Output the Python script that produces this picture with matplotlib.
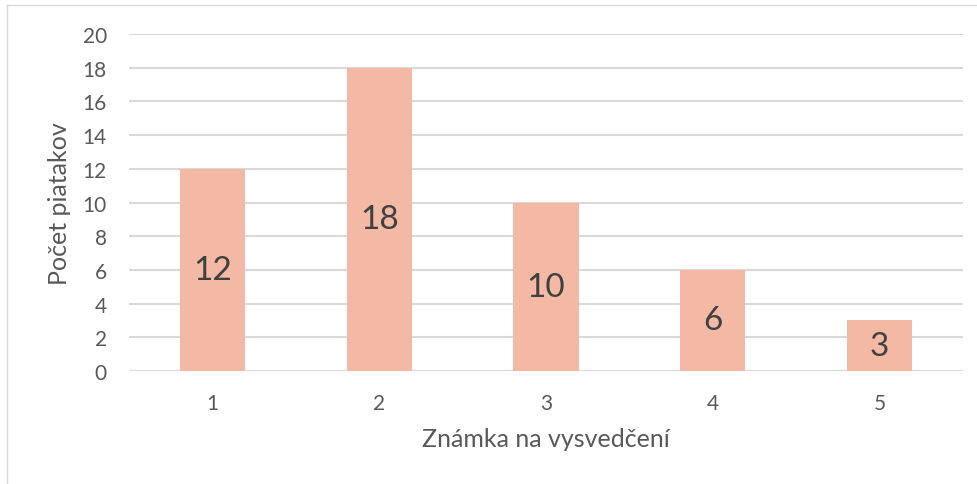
import matplotlib
matplotlib.use('Agg')
import matplotlib.pyplot as plt
from matplotlib.lines import Line2D

plt.rcParams['font.family'] = ['Lato', 'DejaVu Sans']

# data
grades = ['1', '2', '3', '4', '5']
counts = [12, 18, 10, 6, 3]
yticks = [0, 2, 4, 6, 8, 10, 12, 14, 16, 18, 20]

bar_col = '#F4B9A4'
grid_col = '#D9D9D9'
txt_col = '#595959'

fig = plt.figure(figsize=(9.77, 4.85), dpi=100)
ax = fig.add_axes([129/977, 1-372/485, (963-129)/977, (372-35)/485])

x = list(range(len(grades)))
bars = ax.bar(x, counts, width=0.39, color=bar_col, zorder=3)
for b, v in zip(bars, counts):
    ax.text(b.get_x()+b.get_width()/2, v/2., str(v), ha='center', va='center',
            fontsize=24, color='#404040', zorder=4)

ax.set_xlim(-0.5, len(grades)-0.5)
ax.set_ylim(0, 20)
ax.set_yticks(yticks)
ax.set_xticks(x)
ax.set_xticklabels(grades)
ax.yaxis.grid(True, color=grid_col, linewidth=1.5, zorder=0)
for s in ax.spines.values():
    s.set_visible(False)
ax.axhline(0, color=grid_col, linewidth=1.5, zorder=2)
ax.tick_params(axis='both', length=0, labelsize=15, labelcolor=txt_col)
ax.tick_params(axis='y', pad=16)
ax.tick_params(axis='x', pad=16)

ax.set_xlabel('Známka na vysvedčení', fontsize=18, color=txt_col, labelpad=10)
ax.set_ylabel('Počet piatakov', fontsize=18, color=txt_col, labelpad=8)

# outer chart frame (partly cropped in the picture)
fig.add_artist(Line2D([7/977, 7/977], [0, 1-6/485], transform=fig.transFigure, color='#D9D9D9', lw=1))
fig.add_artist(Line2D([7/977, 1], [1-6/485, 1-6/485], transform=fig.transFigure, color='#D9D9D9', lw=1))

plt.savefig('out.png', dpi=100)
